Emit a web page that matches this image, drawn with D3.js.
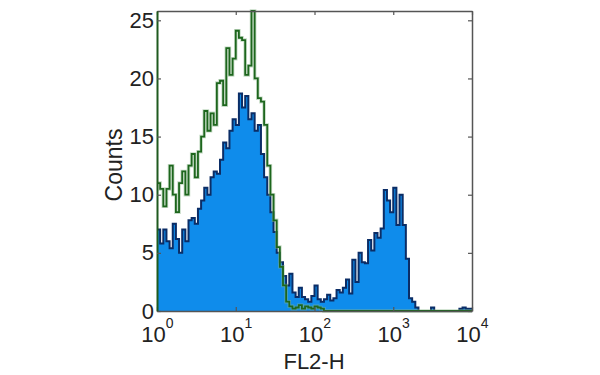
<!DOCTYPE html>
<html>
<head>
<meta charset="utf-8">
<script src="https://cdn.jsdelivr.net/npm/d3@7"></script>
<style>
  body { margin: 0; background: #fff; }
  svg text { font-family: "Liberation Sans", Arial, sans-serif; fill: #222; }
</style>
</head>
<body>
<svg id="chart" width="600" height="375"></svg>
<script>
// FL2-H histogram, 25 channels per decade from 10^0 to 10^4
const binsPerDecade = 25;
const xTicks = [1, 10, 100, 1000, 10000];
const xTickExp = ["0", "1", "2", "3", "4"];
const yTicks = [0, 5, 10, 15, 20, 25];

// stained sample (filled blue)
const stainedCounts = [
  7, 5.8, 7, 6, 5.4, 7.5, 6.2, 5, 7, 6,
  7.8, 8, 7.5, 8.8, 9.5, 10.6, 10, 11.5, 12, 11.8,
  13, 14.5, 14, 15.5, 16.5, 16, 18.7, 17.5, 18.5, 16.5,
  17, 15.5, 16, 13.5, 11.5, 10, 8.5, 6.8, 5, 4.2,
  3, 2.2, 3.2, 1.6, 1.2, 2, 1.2, 1, 0.8, 1.3,
  2.2, 1, 0.8, 1, 1.4, 0.9, 1.1, 1.8, 1.6, 2,
  2.7, 1.5, 4.4, 2.5, 5, 4.2, 4.1, 6.1, 5.2, 6.7,
  6.3, 7.1, 10.4, 9.5, 8.5, 10.6, 7.4, 10, 7.4, 4.5,
  1.1, 0.8, 0.3, 0, 0, 0, 0, 0.3, 0, 0,
  0, 0, 0, 0, 0, 0, 0.2, 0.3, 0.2, 0.2
];

// isotype control (green outline)
const controlCounts = [
  11, 10.5, 9, 10.5, 12.5, 10, 8.5, 11, 12, 10,
  12.5, 13.5, 11.5, 13.7, 15, 17.2, 15.5, 17, 16, 19.6,
  19.8, 17.7, 22.6, 20.3, 21.7, 24.1, 23.5, 23.3, 20.3, 21.1,
  25.8, 20, 18.3, 18, 16, 12.5, 10, 7.8, 5.5, 3.8,
  2.2, 0.8, 0.4, 0.2, 0.3, 0.5, 0.2, 0.4, 0.3, 0.2,
  0.4, 0.3, 0.2, 0, 0, 0, 0, 0, 0, 0,
  0, 0, 0, 0, 0, 0, 0, 0, 0, 0,
  0, 0, 0, 0, 0, 0, 0, 0, 0, 0,
  0, 0, 0, 0, 0, 0, 0, 0, 0, 0,
  0, 0, 0, 0, 0, 0, 0, 0, 0, 0
];

const plotLeft = 157, plotRight = 472, plotTop = 11, plotBottom = 311;
const svg = d3.select("#chart");

const x = d3.scaleLog().domain([1, 1e4]).range([plotLeft, plotRight]);
const y = d3.scaleLinear().domain([0, 25.8]).range([plotBottom, plotTop]);

// step points: left edge of each channel, plus closing edge at 10^4
function toSteps(counts) {
  const pts = counts.map((c, i) => ({ x: Math.pow(10, i / binsPerDecade), y: c }));
  pts.push({ x: 1e4, y: counts[counts.length - 1] });
  return pts;
}

const area = d3.area()
  .curve(d3.curveStepAfter)
  .x(d => x(d.x))
  .y0(y(0))
  .y1(d => y(d.y));

const line = d3.line()
  .curve(d3.curveStepAfter)
  .x(d => x(d.x))
  .y(d => y(d.y));

// blue filled histogram
svg.append("path")
  .datum(toSteps(stainedCounts))
  .attr("d", area)
  .attr("fill", "#0f8ceb");
svg.append("path")
  .datum(toSteps(stainedCounts))
  .attr("d", line)
  .attr("fill", "none")
  .attr("stroke", "#0b2d66")
  .attr("stroke-width", 2);

// green control outline
svg.append("path")
  .datum(toSteps(controlCounts))
  .attr("d", line)
  .attr("fill", "none")
  .attr("stroke", "#8cb88c")
  .attr("stroke-width", 3.5)
  .attr("opacity", 0.5);
svg.append("path")
  .datum(toSteps(controlCounts))
  .attr("d", line)
  .attr("fill", "none")
  .attr("stroke", "#1d661d")
  .attr("stroke-width", 1.8);

// Add X axis
const xAxis = svg.append("g")
  .attr("transform", "translate(0," + plotBottom + ")")
  .call(d3.axisBottom(x).tickValues(xTicks).tickSize(-4).tickSizeOuter(0).tickFormat(""));
xAxis.selectAll(".tick text")
  .attr("y", 31)
  .attr("dy", 0)
  .style("font-size", "22px")
  .attr("text-anchor", "middle")
  .each(function(d, i) {
    const t = d3.select(this);
    t.append("tspan").text("10");
    t.append("tspan").text(xTickExp[i])
      .attr("dy", -14)
      .style("font-size", "14px");
  });

// top mirror
svg.append("g")
  .attr("transform", "translate(0," + plotTop + ")")
  .call(d3.axisTop(x).tickValues(xTicks).tickSize(-4).tickSizeOuter(0).tickFormat(""));

// Add Y axis
const yAxis = svg.append("g")
  .attr("transform", "translate(" + plotLeft + ",0)")
  .call(d3.axisLeft(y).tickValues(yTicks).tickSize(-4).tickSizeOuter(0).tickPadding(3));
yAxis.selectAll(".tick text").style("font-size", "22px");

// right mirror
svg.append("g")
  .attr("transform", "translate(" + plotRight + ",0)")
  .call(d3.axisRight(y).tickValues(yTicks).tickSize(-4).tickSizeOuter(0).tickFormat(""));

svg.selectAll(".domain").attr("stroke", "#555").attr("stroke-width", 1.5);
svg.selectAll(".tick line").attr("stroke", "#555").attr("stroke-width", 1.2);
// control trace runs up the left edge
yAxis.select(".domain").attr("stroke", "#1f5a1f").attr("stroke-width", 2);

// Add labels
svg.append("text")
  .attr("x", 314)
  .attr("y", 369)
  .attr("text-anchor", "middle")
  .style("font-size", "22px")
  .text("FL2-H");

svg.append("text")
  .attr("transform", "translate(122,165) rotate(-90)")
  .attr("text-anchor", "middle")
  .style("font-size", "23px")
  .text("Counts");
</script>
</body>
</html>
